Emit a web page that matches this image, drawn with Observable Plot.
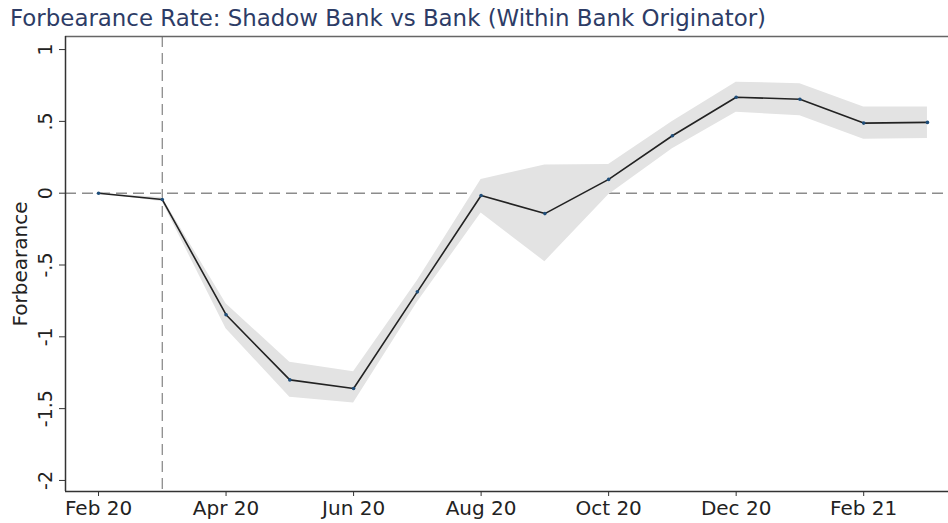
<!DOCTYPE html>
<html>
<head>
<meta charset="utf-8">
<script src="https://cdn.jsdelivr.net/npm/d3@7"></script>
<script src="https://cdn.jsdelivr.net/npm/@observablehq/plot@0.6"></script>
<style>
  html, body { margin: 0; padding: 0; background: #fff; }
  #title { height: 30px; font-family: "DejaVu Sans", sans-serif; font-size: 22.9px; color: #2d3c66; padding-left: 10px; line-height: 30px; white-space: nowrap; margin-top: 3px; margin-bottom: -1px; }
</style>
</head>
<body>
<div id="title">Forbearance Rate: Shadow Bank vs Bank (Within Bank Originator)</div>
<div id="chart"></div>
<script>
const months = ["Feb 20","Mar 20","Apr 20","May 20","Jun 20","Jul 20","Aug 20","Sep 20","Oct 20","Nov 20","Dec 20","Jan 21","Feb 21","Mar 21"];
const estimate = [0, -0.044, -0.846, -1.30, -1.36, -0.687, -0.016, -0.142, 0.096, 0.40, 0.668, 0.654, 0.488, 0.493];
const lower    = [0, -0.06, -0.944, -1.42, -1.46, -0.76, -0.138, -0.477, -0.01, 0.31, 0.563, 0.54, 0.376, 0.38];
const upper    = [0, -0.03, -0.77, -1.177, -1.243, -0.61, 0.096, 0.196, 0.20, 0.50, 0.773, 0.762, 0.60, 0.60];
const xTickMonths = ["Feb 20","Apr 20","Jun 20","Aug 20","Oct 20","Dec 20","Feb 21"];
const yTicks = [1, 0.5, 0, -0.5, -1, -1.5, -2];
const yTickLabels = ["1", ".5", "0", "-.5", "-1", "-1.5", "-2"];
const eventMonth = "Mar 20";

const data = months.map((m, i) => ({i, month: m, est: estimate[i], lo: lower[i], hi: upper[i]}));
const xTicks = xTickMonths.map(m => months.indexOf(m));
const eventIdx = months.indexOf(eventMonth);
const xDomain = [-0.518, 13.33];
const yDomain = [-2.077, 1.091];

const chart = Plot.plot({
  width: 948,
  height: 493,
  marginTop: 4,
  marginLeft: 65,
  marginRight: 0,
  marginBottom: 34,
  style: {fontFamily: "DejaVu Sans, sans-serif", background: "#fff", color: "#222"},
  x: {domain: xDomain, axis: null},
  y: {domain: yDomain, axis: null},
  marks: [
    Plot.ruleY([0], {stroke: "#8c8c8c", strokeWidth: 1.6, strokeDasharray: "11,6"}),
    Plot.ruleX([eventIdx], {stroke: "#8c8c8c", strokeWidth: 1.3, strokeDasharray: "11,6"}),
    Plot.areaY(data, {x: "i", y1: "lo", y2: "hi", fill: "#e3e3e3"}),
    Plot.line(data, {x: "i", y: "est", stroke: "#222", strokeWidth: 1.6}),
    Plot.dot(data, {x: "i", y: "est", r: 1.8, fill: "#1f4e7a", stroke: "none"}),
    Plot.ruleY([yDomain[1]], {stroke: "#666", strokeWidth: 1.5}),
    Plot.ruleY([yDomain[0]], {stroke: "#333", strokeWidth: 1.5}),
    Plot.ruleX([xDomain[0]], {stroke: "#333", strokeWidth: 1.5}),
    Plot.axisY(yTicks, {anchor: "left", tickSize: 6, tickFormat: () => "", label: null, stroke: "#333"}),
    Plot.text(yTicks, {x: xDomain[0], y: d => d, text: (d, k) => yTickLabels[k], rotate: -90, dx: -20, fontSize: 19, fill: "#222", textAnchor: "middle", lineAnchor: "middle"}),
    Plot.text(["Forbearance"], {frameAnchor: "left", dx: -45, dy: 0, rotate: -90, fontSize: 20, fill: "#222", textAnchor: "middle", lineAnchor: "middle"}),
    Plot.axisX(xTicks, {anchor: "bottom", tickSize: 5, tickPadding: 4, fontSize: 20, tickFormat: d => months[d], label: null, stroke: "#333", fill: "#222"})
  ]
});
document.getElementById("chart").appendChild(chart);
</script>
</body>
</html>
